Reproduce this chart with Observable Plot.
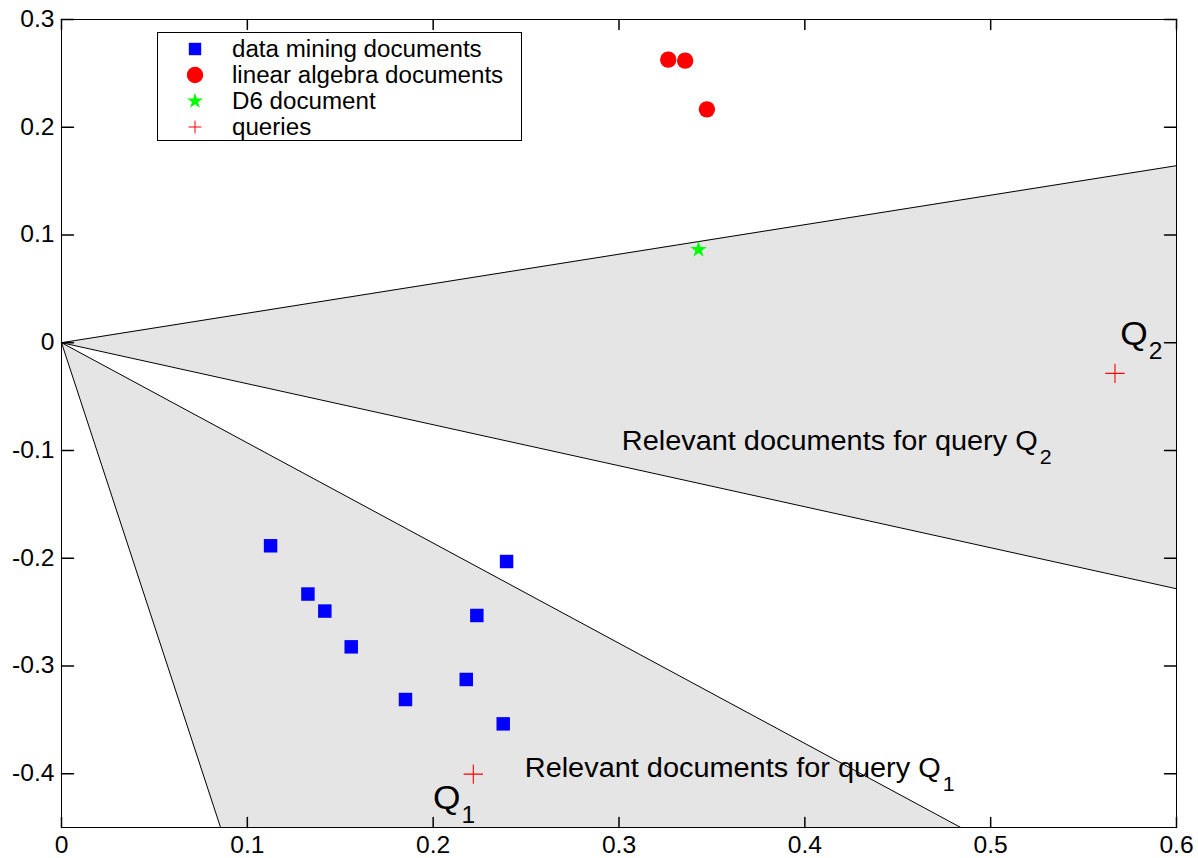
<!DOCTYPE html>
<html>
<head>
<meta charset="utf-8">
<script src="https://cdn.jsdelivr.net/npm/d3@7"></script>
<script src="https://cdn.jsdelivr.net/npm/@observablehq/plot@0.6"></script>
<style>
  html, body { margin: 0; padding: 0; background: #fff; }
  #wrap { position: relative; width: 1198px; height: 858px; font-family: "Liberation Sans", Arial, sans-serif; }
  #legend { position: absolute; left: 157px; top: 32px; width: 365px; height: 109px; box-sizing: border-box; border: 1px solid #000; background: #fff; }
  .row { position: absolute; left: 0; height: 26px; line-height: 26px; font-size: 23px; color: #000; white-space: nowrap; }
  .row svg { position: absolute; left: 25px; top: 1px; }
  .row span { position: absolute; left: 74px; top: 0; transform: scaleX(1.05); transform-origin: 0 50%; }
</style>
</head>
<body>
<div id="wrap"></div>
<script>
// ---- data ----
const xTicks = [0, 0.1, 0.2, 0.3, 0.4, 0.5, 0.6];
const yTicks = [-0.4, -0.3, -0.2, -0.1, 0, 0.1, 0.2, 0.3];

const dataMiningX = [0.1125, 0.1326, 0.1417, 0.1559, 0.1851, 0.2178, 0.2235, 0.2395, 0.2377];
const dataMiningY = [-0.1885, -0.2333, -0.2491, -0.2823, -0.3312, -0.3126, -0.2532, -0.2031, -0.3538];

const linAlgX = [0.3265, 0.3356, 0.3473];
const linAlgY = [0.2628, 0.2618, 0.2166];

const d6X = [0.3428];
const d6Y = [0.0864];

const queryX = [0.2216, 0.5669];
const queryY = [-0.4005, -0.0285];

// cone for Q2 (bounded by x)
const cone2X = [0, 0.6];
const cone2Lo = [0, -0.2284];
const cone2Hi = [0, 0.1643];
// cone for Q1 (bounded by y)
const cone1Y = [0, -0.45];
const cone1Lo = [0, 0.0856];
const cone1Hi = [0, 0.4839];

const legendLabels = ["data mining documents", "linear algebra documents", "D6 document", "queries"];

// annotation texts
const relText = "Relevant documents for query Q";
const relSubs = ["1", "2"];
const relX = [0.4731, 0.5253];
const relY = [-0.3955, -0.0919];
const qSubs = ["1", "2"];
const qX = [0.2147, 0.5845];
const qY = [-0.4234, 0.0074];

// ---- build tables ----
const dm = dataMiningX.map((x, i) => ({x, y: dataMiningY[i]}));
const la = linAlgX.map((x, i) => ({x, y: linAlgY[i]}));
const d6 = d6X.map((x, i) => ({x, y: d6Y[i]}));
const qs = queryX.map((x, i) => ({x, y: queryY[i]}));
const cone2 = cone2X.map((x, i) => ({x, lo: cone2Lo[i], hi: cone2Hi[i]}));
const cone1 = cone1Y.map((y, i) => ({y, lo: cone1Lo[i], hi: cone1Hi[i]}));
const rel = relX.map((x, i) => ({x, y: relY[i], sub: relSubs[i]}));
const ql = qX.map((x, i) => ({x, y: qY[i], sub: qSubs[i]}));

const tickShape = {draw(context, l) { context.moveTo(0, 0); context.lineTo(0, -l); }};
const fmt = d => String(d);
const gray = "#e5e5e5";

const chart = Plot.plot({
  width: 1198,
  height: 858,
  marginLeft: 61,
  marginRight: 22,
  marginTop: 19,
  marginBottom: 31,
  style: {fontFamily: "'Liberation Sans', Arial, sans-serif", background: "white", color: "black"},
  x: {domain: [0, 0.6]},
  y: {domain: [-0.45, 0.3]},
  marks: [
    Plot.areaY(cone2, {x: "x", y1: "lo", y2: "hi", fill: gray}),
    Plot.areaX(cone1, {y: "y", x1: "lo", x2: "hi", fill: gray}),
    Plot.line(cone2, {x: "x", y: "hi", stroke: "black", strokeWidth: 1}),
    Plot.line(cone2, {x: "x", y: "lo", stroke: "black", strokeWidth: 1}),
    Plot.line(cone1, {x: "lo", y: "y", stroke: "black", strokeWidth: 1}),
    Plot.line(cone1, {x: "hi", y: "y", stroke: "black", strokeWidth: 1}),
    Plot.frame({stroke: "black"}),
    Plot.vectorX(xTicks, {frameAnchor: "bottom", length: 10, rotate: 0, anchor: "start", shape: tickShape, stroke: "black"}),
    Plot.vectorX(xTicks, {frameAnchor: "top", length: 10, rotate: 180, anchor: "start", shape: tickShape, stroke: "black"}),
    Plot.vectorY(yTicks, {frameAnchor: "left", length: 12, rotate: 90, anchor: "start", shape: tickShape, stroke: "black"}),
    Plot.vectorY(yTicks, {frameAnchor: "right", length: 12, rotate: -90, anchor: "start", shape: tickShape, stroke: "black"}),
    Plot.axisX({ticks: xTicks, tickSize: 0, tickPadding: 9, fontSize: 23, tickFormat: fmt, label: null}),
    Plot.axisY({ticks: yTicks, tickSize: 0, tickPadding: 7, fontSize: 23, tickFormat: fmt, label: null}),
    Plot.text(rel, {x: "x", y: "y", text: () => relText, textAnchor: "end", fontSize: 27, fill: "black"}),
    Plot.text(rel, {x: "x", y: "y", text: "sub", textAnchor: "start", dx: 2, dy: 16, fontSize: 20, fill: "black"}),
    Plot.text(ql, {x: "x", y: "y", text: () => "Q", textAnchor: "end", fontSize: 33, fill: "black"}),
    Plot.text(ql, {x: "x", y: "y", text: "sub", textAnchor: "start", dx: 1, dy: 17, fontSize: 23, fill: "black"}),
    Plot.dot(dm, {x: "x", y: "y", symbol: "square", r: 7.6, fill: "#0000ff", stroke: "none"}),
    Plot.dot(la, {x: "x", y: "y", symbol: "circle", r: 8.2, fill: "#ff0000", stroke: "none"}),
    Plot.dot(d6, {x: "x", y: "y", symbol: "star", r: 5.2, fill: "#00ff00", stroke: "none"}),
    Plot.dot(qs, {x: "x", y: "y", symbol: "plus", r: 6.3, stroke: "#ff0000", strokeWidth: 1.1, fill: "none"})
  ]
});

const wrap = document.getElementById("wrap");
wrap.appendChild(chart);

// the reference text is slightly wide: stretch glyphs horizontally
const stretch = 1.07;
chart.querySelectorAll("text").forEach(t => {
  const len = t.getComputedTextLength();
  if (len > 0) {
    t.setAttribute("textLength", (len * stretch).toFixed(2));
    t.setAttribute("lengthAdjust", "spacingAndGlyphs");
  }
});

// legend inside plot area
const legend = document.createElement("div");
legend.id = "legend";
const legendSymbols = [
  {type: d3.symbolSquare, r: 7.0, fill: "#0000ff", stroke: "none"},
  {type: d3.symbolCircle, r: 8.2, fill: "#ff0000", stroke: "none"},
  {type: d3.symbolStar, r: 5.0, fill: "#00ff00", stroke: "none"},
  {type: d3.symbolPlus, r: 4.2, fill: "none", stroke: "#ff0000"}
];
legendLabels.forEach((label, i) => {
  const row = document.createElement("div");
  row.className = "row";
  row.style.top = (3 + i * 26) + "px";
  const s = legendSymbols[i];
  const path = d3.symbol(s.type, Math.PI * s.r * s.r)();
  row.innerHTML = `<svg width="24" height="24" viewBox="-12 -12 24 24"><path d="${path}" fill="${s.fill}" stroke="${s.stroke}" stroke-width="1"></path></svg><span>${label}</span>`;
  legend.appendChild(row);
});
wrap.appendChild(legend);
</script>
</body>
</html>
